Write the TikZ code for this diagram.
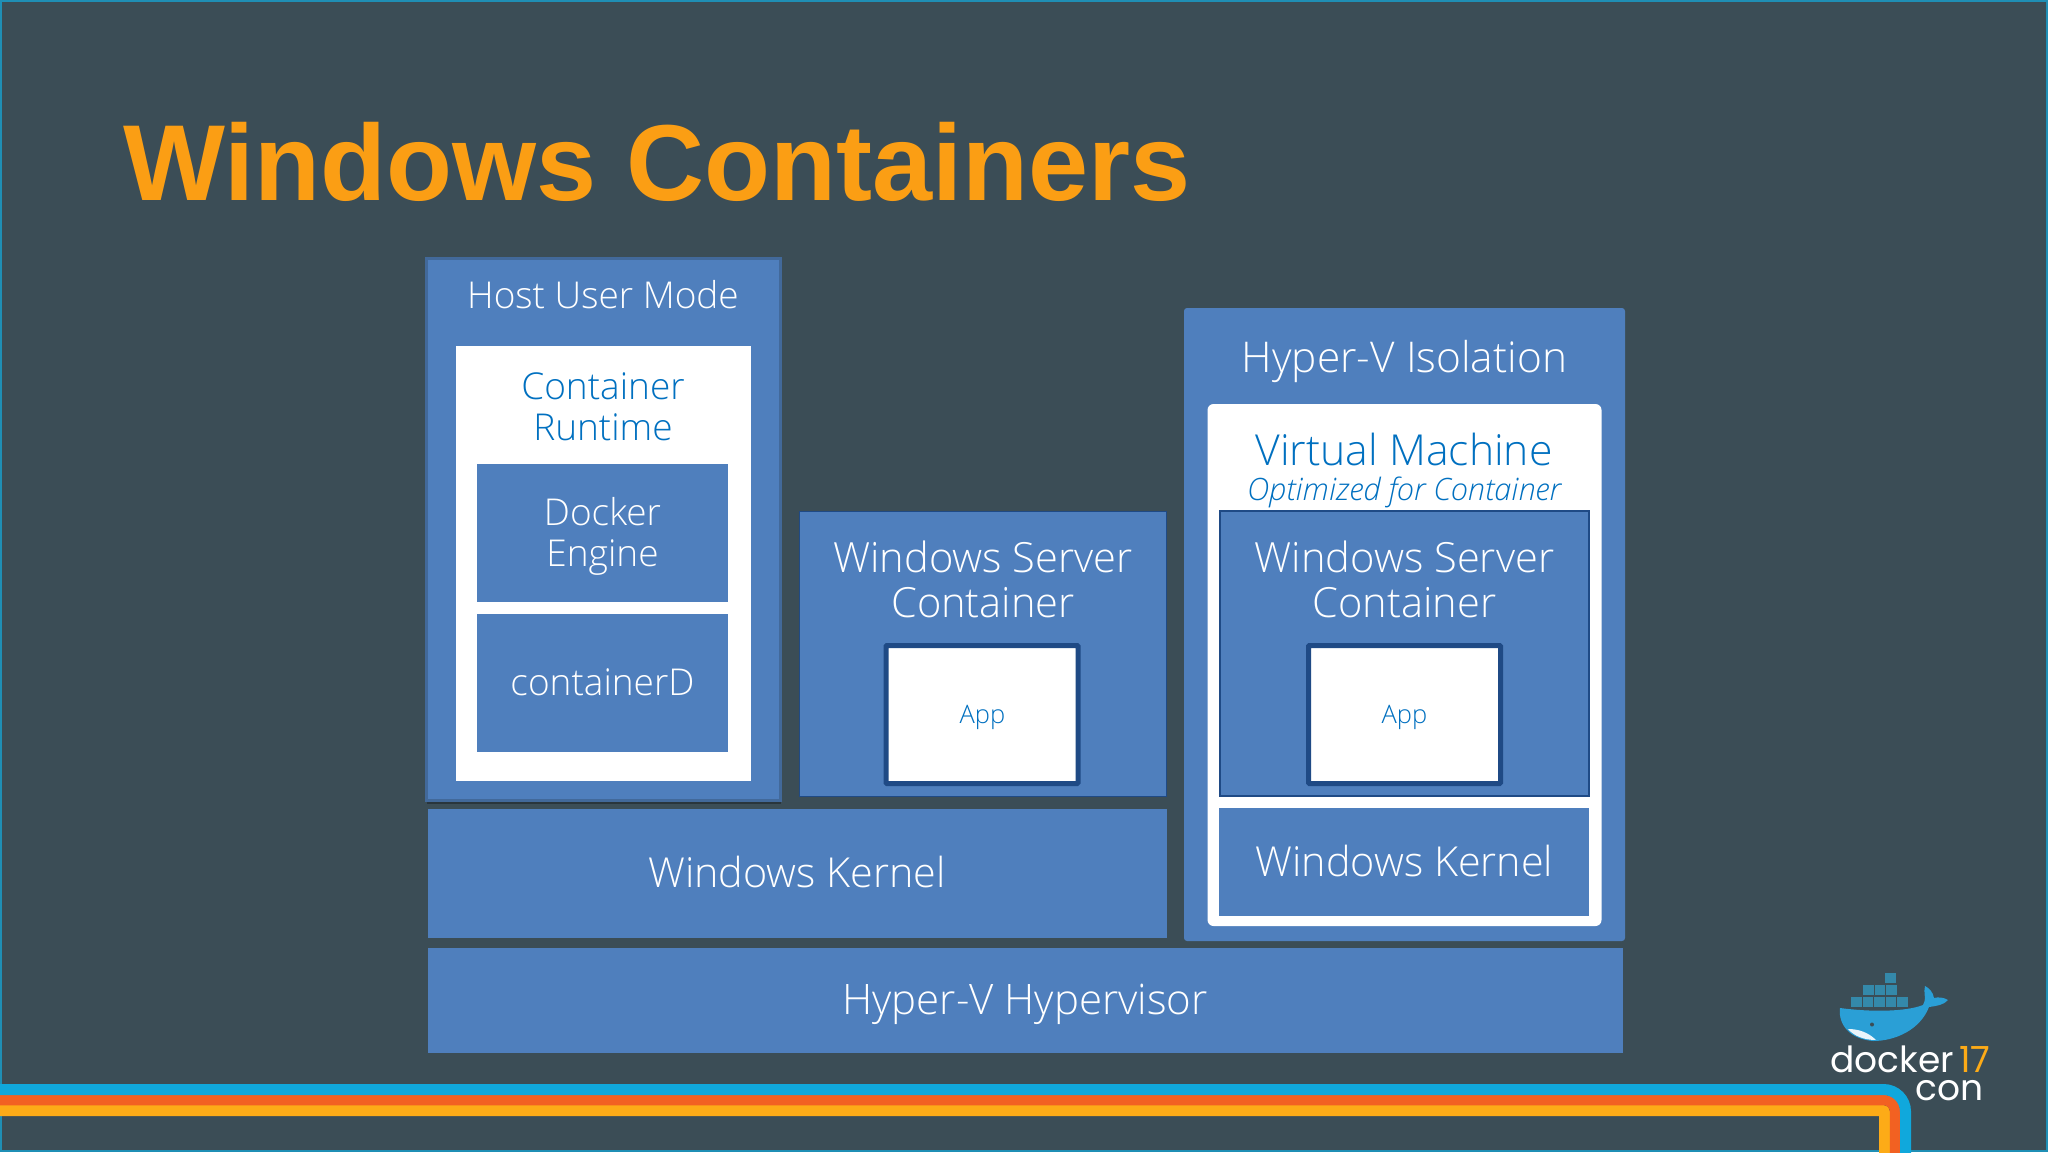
\documentclass[tikz,border=0pt]{standalone}
\usepackage{fontspec}
\setmainfont{Open Sans}[UprightFont=* Light, ItalicFont=* Light Italic]
\newfontfamily\titlefont{Liberation Sans}
\newfontfamily\logofont{Poppins}
\usetikzlibrary{shadows}

\definecolor{slidebg}{HTML}{3B4D56}
\definecolor{boxblue}{HTML}{4F7FBD}
\definecolor{boxdark}{HTML}{1F4A85}
\definecolor{textblue}{HTML}{0070C0}
\definecolor{hostedge}{HTML}{42699A}
\definecolor{titleorange}{HTML}{FB9E14}
\definecolor{bandblue}{HTML}{10A8DC}
\definecolor{bandred}{HTML}{F26122}
\definecolor{bandyellow}{HTML}{FDAB17}
\definecolor{framecol}{HTML}{1F8FB5}
\definecolor{cratecol}{HTML}{3489AA}
\definecolor{whaleblue}{HTML}{2A9FD6}

\newcommand{\fs}[2]{\fontsize{#1}{#2}\selectfont}

\tikzset{
  bluebox/.style={rectangle, fill=boxblue, inner sep=0pt, outer sep=0pt},
  whitebox/.style={rectangle, fill=white, inner sep=0pt, outer sep=0pt},
  appbox/.style={rectangle, fill=white, draw=boxdark, line width=5pt, rounded corners=1pt,
    inner sep=0pt, minimum width=192pt, minimum height=138pt},
  whitetext/.style={text=white, align=center, inner sep=0pt},
  bluetext/.style={text=textblue, align=center, inner sep=0pt},
  crate/.style={fill=cratecol},
}

\begin{document}
\begin{tikzpicture}[x=1pt, y=-1pt]
  \useasboundingbox (0,0) rectangle (2048,1152);
  \path[fill=slidebg, draw=framecol, line width=2.5pt] (1,1) rectangle (2047,1151);

  % bands along the bottom
  \draw[bandyellow, line width=11pt, rounded corners=2pt] (-5,1110.5) -- (1884.5,1110.5) -- (1884.5,1158);
  \draw[bandred, line width=10.5pt, rounded corners=11pt] (-5,1100) -- (1895,1100) -- (1895,1158);
  \draw[bandblue, line width=11pt, rounded corners=22pt] (-5,1089.5) -- (1905.5,1089.5) -- (1905.5,1158);

  \node(Title)[anchor=base west, text=titleorange, inner sep=0pt, font=\titlefont\bfseries\fs{108}{108}] at (123,200) {Windows Containers};

  % host side
  \node(Host)[bluebox, draw=hostedge, line width=3pt, minimum width=354pt, minimum height=542pt,
    drop shadow={shadow xshift=1pt, shadow yshift=-4pt, fill=black, opacity=0.3}] at (603,529) {};
  \node(NHost)[whitetext, font=\fs{37}{41}] at (603,295) {Host User Mode};
  \node(Runtime)[whitebox, minimum width=295pt, minimum height=435pt] at (603,563.5) {};
  \node(NRuntime)[bluetext, font=\fs{37}{41}] at (603,407) {Container\\Runtime};
  \node(Engine)[bluebox, minimum width=251pt, minimum height=138pt] at (602.5,533) {};
  \node(NEngine)[whitetext, font=\fs{37}{41}] at (602.5,536) {Docker\\Engine};
  \node(ContD)[bluebox, minimum width=251pt, minimum height=138pt] at (602.5,683) {};
  \node(NContD)[whitetext, font=\fs{37}{41}] at (602.5,682) {containerD};

  \node(Server)[bluebox, draw=boxdark, line width=1pt, minimum width=367pt, minimum height=285pt] at (982.5,654) {};
  \node(NServer)[whitetext, font=\fs{41.6}{45}] at (983,579) {Windows Server\\Container};
  \node(App)[appbox] at (982,714.5) {};
  \node(NApp)[bluetext, font=\fs{25.5}{28}] at (982.5,717) {App};

  \node(Kernel)[bluebox, minimum width=739pt, minimum height=129pt] at (797,873.5) {};
  \node(NKernel)[whitetext, font=\fs{41.3}{45}] at (797,872) {Windows Kernel};
  \node(Hypervisor)[bluebox, minimum width=1195pt, minimum height=105pt] at (1025,1000.5) {};
  \node(NHypervisor)[whitetext, font=\fs{42}{45}] at (1025,1004) {Hyper-V Hypervisor};

  % isolated side
  \node(Isolation)[bluebox, rounded corners=3pt, minimum width=441pt, minimum height=633pt] at (1404.5,624.5) {};
  \node(NIsolation)[whitetext, font=\fs{42.4}{45}] at (1404.5,361) {Hyper-V Isolation};
  \node(VM)[whitebox, rounded corners=6pt, minimum width=394pt, minimum height=522pt] at (1404.5,665) {};
  \node(NVM)[bluetext, font=\fs{42.7}{45}] at (1404,449) {Virtual Machine};
  \node(NOpt)[bluetext, font=\itshape\fs{30.8}{32}] at (1404,492) {Optimized for Container};
  \node(ServerB)[bluebox, draw=boxdark, line width=2pt, minimum width=369pt, minimum height=285pt] at (1404.5,653.5) {};
  \node(NServerB)[whitetext, font=\fs{41.6}{45}] at (1404.5,579) {Windows Server\\Container};
  \node(AppB)[appbox] at (1404.5,714.5) {};
  \node(NAppB)[bluetext, font=\fs{25.5}{28}] at (1404.5,717) {App};
  \node(KernelB)[bluebox, minimum width=370pt, minimum height=108pt] at (1404,862) {};
  \node(NKernelB)[whitetext, font=\fs{41.3}{45}] at (1404.5,861) {Windows Kernel};

  % logo
  \fill[crate] (1885,973) rectangle +(11,10);
  \fill[crate] (1863,985) rectangle +(10.5,10);
  \fill[crate] (1874.5,985) rectangle +(10.5,10);
  \fill[crate] (1886,985) rectangle +(10.5,10);
  \fill[crate] (1851,997) rectangle +(10.5,10);
  \fill[crate] (1862.5,997) rectangle +(10.5,10);
  \fill[crate] (1874,997) rectangle +(10.5,10);
  \fill[crate] (1885.5,997) rectangle +(10.5,10);
  \fill[crate] (1897,997) rectangle +(10.5,10);
  \fill[whaleblue] (1840,1008) .. controls (1870,1012) and (1905,1012) .. (1923,1005)
    .. controls (1927,1000) and (1923,992) .. (1925,986)
    .. controls (1929,988) and (1933,992) .. (1934,998)
    .. controls (1938,997) and (1943,997) .. (1948,1000)
    .. controls (1944,1005) and (1936,1006) .. (1929,1007)
    .. controls (1920,1030) and (1895,1041) .. (1873,1041)
    .. controls (1850,1039) and (1838,1025) .. (1840,1008) -- cycle;
  \fill[white!90!whaleblue] (1848,1029) .. controls (1858,1029) and (1868,1032) .. (1876,1040)
    .. controls (1864,1040) and (1854,1036) .. (1848,1029) -- cycle;
  \fill[slidebg] (1872,1024.5) circle (2pt);
  \node(NDocker)[anchor=base east, text=white, inner sep=0pt, font=\logofont\fs{36}{38}] at (1954,1072) {docker};
  \node(NSeventeen)[anchor=base west, text=bandyellow, inner sep=0pt, font=\logofont\fs{36}{38}] at (1959,1072) {17};
  \node(NCon)[anchor=base east, text=white, inner sep=0pt, font=\logofont\fs{36}{38}] at (1984,1100) {con};
\end{tikzpicture}
\end{document}
